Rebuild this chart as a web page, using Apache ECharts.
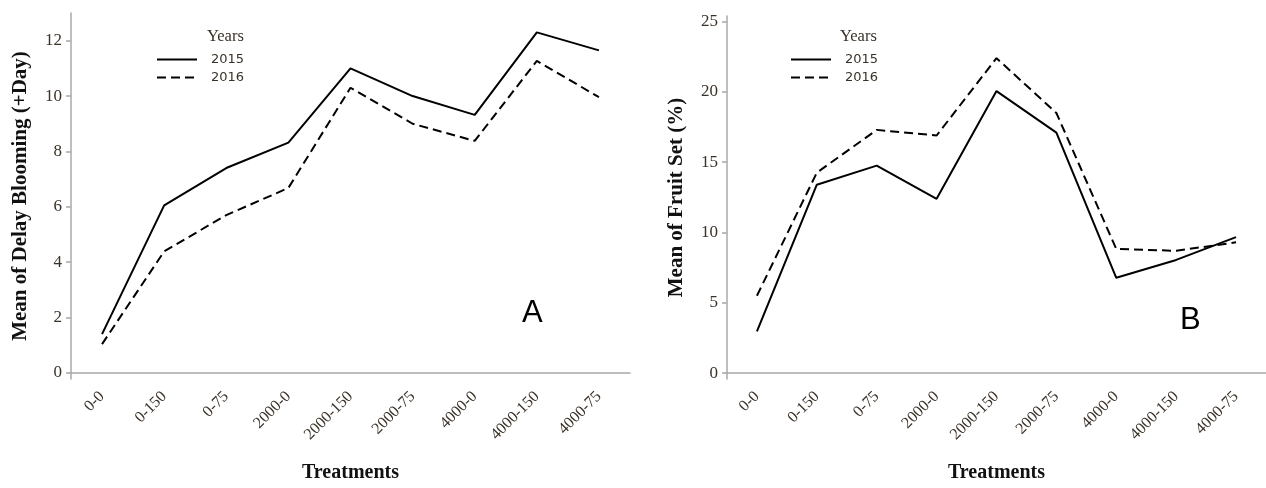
<!DOCTYPE html>
<html>
<head>
<meta charset="utf-8">
<script src="https://cdn.jsdelivr.net/npm/echarts@6/dist/echarts.min.js"></script>
<style>
  html, body { margin: 0; padding: 0; background: #fff; }
  #chart { width: 1266px; height: 488px; }
</style>
</head>
<body>
<div id="chart"></div>
<script>
// treatments on the x axis (same for both panels)
const treatments = ['0-0', '0-150', '0-75', '2000-0', '2000-150', '2000-75', '4000-0', '4000-150', '4000-75']

// panel A: mean of delay blooming (+day)
const bloom2015 = [1.4, 6.05, 7.4, 8.32, 11.0, 10.0, 9.32, 12.3, 11.65]
const bloom2016 = [1.04, 4.39, 5.7, 6.68, 10.3, 9.0, 8.38, 11.27, 9.96]
const bloomTicks = [0, 2, 4, 6, 8, 10, 12]

// panel B: mean of fruit set (%)
const fruit2015 = [2.97, 13.4, 14.76, 12.4, 20.06, 17.1, 6.78, 8.05, 9.67]
const fruit2016 = [5.5, 14.26, 17.3, 16.9, 22.4, 18.5, 8.83, 8.7, 9.3]
const fruitTicks = [0, 5, 10, 15, 20, 25]

const serif = '"Liberation Serif", "DejaVu Serif", serif'
const sans = '"Liberation Sans", "DejaVu Sans", sans-serif'
const labelColor = '#3a3228'
const axisColor = '#a8a8a8'

const chart = echarts.init(document.getElementById('chart'))

const makeX = (gridIndex) => ({
  type: 'category',
  gridIndex,
  data: treatments,
  boundaryGap: true,
  name: 'Treatments',
  nameLocation: 'middle',
  nameGap: 84,
  nameTextStyle: { fontFamily: serif, fontWeight: 'bold', fontSize: 20, color: '#111' },
  axisLine: { lineStyle: { color: axisColor, width: 1.5 } },
  axisTick: { alignWithLabel: true, length: 5, lineStyle: { color: axisColor, width: 1.5 } },
  axisLabel: { rotate: 45, margin: 15, fontFamily: serif, fontSize: 16, color: labelColor, interval: 0 },
  splitLine: { show: false }
})

const makeY = (gridIndex, name, min, max, ticks) => ({
  type: 'value',
  gridIndex,
  min,
  max,
  name,
  nameLocation: 'middle',
  nameGap: 40,
  nameTextStyle: { fontFamily: serif, fontWeight: 'bold', fontSize: 21, color: '#111' },
  axisLine: { show: true, lineStyle: { color: axisColor, width: 1.5 } },
  axisTick: { show: true, length: 5, customValues: ticks, lineStyle: { color: axisColor, width: 1.5 } },
  axisLabel: { customValues: ticks, margin: 9, fontFamily: serif, fontSize: 17, color: labelColor },
  splitLine: { show: false }
})

const lineSeries = (name, data, idx, dashed) => ({
  name,
  type: 'line',
  xAxisIndex: idx,
  yAxisIndex: idx,
  data,
  symbol: 'none',
  lineStyle: { color: '#000', width: 2, type: dashed ? [9, 5] : 'solid' },
  itemStyle: { color: '#000' },
  silent: true
})

const legendBase = {
  orient: 'vertical',
  data: ['2015', '2016'],
  itemWidth: 40,
  itemHeight: 14,
  itemGap: 5,
  selectedMode: false,
  itemStyle: { opacity: 0 },
  textStyle: { fontFamily: '"DejaVu Sans", sans-serif', fontSize: 13, color: labelColor, padding: [0, 0, 0, 9] }
}

chart.setOption({
  animation: false,
  grid: [
    { left: 71, top: 13, width: 559, height: 371 },
    { left: 727, top: 16, width: 552, height: 366 }
  ],
  xAxis: [makeX(0), makeX(1)],
  yAxis: [
    makeY(0, 'Mean of Delay Blooming (+Day)', -0.22, 13, bloomTicks),
    makeY(1, 'Mean of Fruit Set (%)', -0.42, 25.4, fruitTicks)
  ],
  legend: [
    Object.assign({ left: 151, top: 48 }, legendBase),
    Object.assign({ left: 785, top: 48 }, legendBase)
  ],
  graphic: [
    { type: 'text', left: 207, top: 28, style: { text: 'Years', font: '16.5px ' + serif, fill: labelColor } },
    { type: 'text', left: 840, top: 28, style: { text: 'Years', font: '16.5px ' + serif, fill: labelColor } },
    { type: 'text', left: 522, top: 298, style: { text: 'A', font: '31px ' + sans, fill: '#000' } },
    { type: 'text', left: 1180, top: 305, style: { text: 'B', font: '31px ' + sans, fill: '#000' } }
  ],
  series: [
    lineSeries('2015', bloom2015, 0, false),
    lineSeries('2016', bloom2016, 0, true),
    lineSeries('2015', fruit2015, 1, false),
    lineSeries('2016', fruit2016, 1, true)
  ]
})
</script>
</body>
</html>
